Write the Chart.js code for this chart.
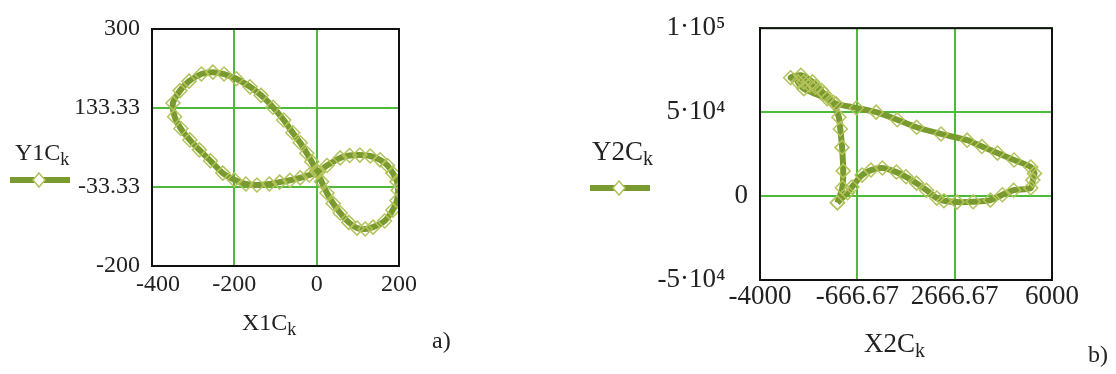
<!DOCTYPE html>
<html>
<head>
<meta charset="utf-8">
<script src="https://cdn.jsdelivr.net/npm/chart.js@4.4.0/dist/chart.umd.min.js"></script>
<style>
    body { margin: 0; background: #fff; }
    #wrap { position: relative; width: 1116px; height: 374px; overflow: hidden; font-family: 'Liberation Serif', 'Times New Roman', serif; color: #222; }
    canvas { position: absolute; top: 0; }
    .lbl { position: absolute; font-size: 24px; line-height: 24px; white-space: nowrap; }
    .lbl sub { font-size: 18px; vertical-align: -5px; line-height: 0; }
    .big { font-size: 27px; line-height: 27px; }
    .big sub { font-size: 20px; }
</style>
</head>
<body>
<div id="wrap">
    <canvas id="chartA" width="460" height="374" style="left:0"></canvas>
    <canvas id="chartB" width="556" height="374" style="left:560px"></canvas>
    <div class="lbl" style="left:15px; top:140px">Y1C<sub>k</sub></div>
    <div class="lbl" style="left:242px; top:310px">X1C<sub>k</sub></div>
    <div class="lbl" style="left:432px; top:328px">a)</div>
    <div class="lbl big" style="left:592px; top:138px">Y2C<sub>k</sub></div>
    <div class="lbl big" style="left:864px; top:330px">X2C<sub>k</sub></div>
    <div class="lbl" style="left:1088px; top:342px">b)</div>
</div>
<script>
// chart a) - figure-eight loop
const x1C = [0, -12, -24, -40, -58, -80, -106, -135, -162, -195, -225, -252, -280, -310, -332, -349, -345, -330, -308, -285, -258, -228, -200, -172, -145, -115, -90, -65, -40, -18, 3, 25, 57, 80, 105, 130, 154, 172, 185, 195, 198, 195, 185, 165, 137, 118, 98, 78, 57, 40, 25, 12, 0];
const y1C = [0, 20, 38, 60, 81, 108, 135, 160, 178, 195, 205, 209, 205, 190, 170, 144, 115, 90, 66, 45, 22, -4, -18, -27, -29, -27, -23, -19, -14, -8, -2, 12, 28, 33, 34, 32, 24, 12, -4, -22, -40, -62, -82, -105, -118, -122, -120, -108, -88, -68, -46, -22, 0];
const x1Ticks = [-400, -200, 0, 200];
const x1Labels = ['\u2002-400', '-200', '0', '200'];
const y1Ticks = [-200, -33.33, 133.33, 300];
const y1Labels = ['-200', '-33.33', '133.33', '300'];

// chart b)
const x2C = [-1350, -1180, -1150, -1190, -1250, -1300, -1500, -1800, -2100, -2500, -2950, -2600, -2200, -1900, -2300, -2700, -2500, -1700, -1400, -700, -21, 700, 1363, 2200, 3093, 3600, 4131, 4700, 5273, 5400, 5343, 5273, 4685, 4300, 3889, 3300, 2747, 2300, 2055, 1700, 1363, 1000, 671, 190, -200, -505, -851, -1000, -1350];
const y2C = [-4000, 5000, 15000, 29000, 40000, 47000, 56000, 61000, 65000, 68000, 70500, 72000, 68000, 63000, 66000, 68000, 64000, 58000, 55000, 52500, 50000, 45500, 41000, 37000, 33300, 29500, 25600, 21500, 17300, 13500, 9500, 4800, 3500, 800, -2400, -3400, -3600, -2800, -1200, 3500, 7700, 11500, 14300, 16700, 15500, 12500, 5400, 2000, -4000];
const x2Ticks = [-4000, -666.67, 2666.67, 6000];
const x2Labels = ['-4000', '-666.67', '2666.67', '6000'];
const y2Ticks = [-50000, 0, 50000, 100000];
const y2Labels = ['-5\u00b710\u2074\u2002\u2004', '0', '5\u00b710\u2074\u2002\u2004', '1\u00b710\u2075\u2002\u2004'];

const lineColor = '#789a2e';
const markColor = '#b3c25a';
const gridColor = '#4dba3b';

const framePlugin = {
    id: 'frame',
    afterDatasetsDraw(chart, args, opts) {
        const { ctx, chartArea: a } = chart;
        ctx.save();
        ctx.strokeStyle = '#111';
        ctx.lineWidth = 2;
        ctx.strokeRect(a.left, a.top, a.right - a.left, a.bottom - a.top);
        // legend sample
        const lg = opts.legend;
        ctx.strokeStyle = lineColor;
        ctx.lineWidth = 6;
        ctx.beginPath();
        ctx.moveTo(lg.x0, lg.y);
        ctx.lineTo(lg.x1, lg.y);
        ctx.stroke();
        ctx.strokeStyle = markColor;
        ctx.fillStyle = '#fff';
        ctx.lineWidth = 1.5;
        ctx.beginPath();
        ctx.moveTo(lg.xm, lg.y - 7);
        ctx.lineTo(lg.xm + 6, lg.y);
        ctx.lineTo(lg.xm, lg.y + 7);
        ctx.lineTo(lg.xm - 6, lg.y);
        ctx.closePath();
        ctx.fill();
        ctx.stroke();
        ctx.restore();
    }
};

function makeChart(id, xs, ys, xT, xL, yT, yL, box, legend) {
    const pts = xs.map((x, i) => ({ x: x, y: ys[i] }));
    const font = { family: "'Liberation Serif', serif", size: box.fs };
    return new Chart(document.getElementById(id), {
        type: 'scatter',
        data: {
            datasets: [{
                data: pts,
                showLine: true,
                borderColor: lineColor,
                borderWidth: 6,
                tension: 0.25,
                pointStyle: 'rectRot',
                pointRadius: 7,
                pointBorderWidth: 1.5,
                pointBorderColor: markColor,
                pointBackgroundColor: 'rgba(0,0,0,0)'
            }]
        },
        options: {
            responsive: false,
            animation: false,
            devicePixelRatio: 1,
            layout: { padding: { top: box.top, right: box.right, bottom: 0, left: 0 } },
            plugins: { legend: { display: false }, tooltip: { enabled: false }, frame: { legend: legend } },
            scales: {
                x: {
                    type: 'linear', min: xT[0], max: xT[xT.length - 1],
                    afterBuildTicks: s => { s.ticks = xT.map(v => ({ value: v })); },
                    afterFit: s => { s.height = box.xh; },
                    ticks: { callback: (v, i) => xL[i], font: font, color: '#222', padding: box.xp, maxRotation: 0, autoSkip: false },
                    grid: { color: gridColor, lineWidth: 2, drawTicks: false },
                    border: { color: '#111', width: 2 }
                },
                y: {
                    type: 'linear', min: yT[0], max: yT[yT.length - 1],
                    afterBuildTicks: s => { s.ticks = yT.map(v => ({ value: v })); },
                    afterFit: s => { s.width = box.yw; },
                    ticks: { callback: (v, i) => yL[i], font: font, color: '#222', padding: 12, autoSkip: false },
                    grid: { color: gridColor, lineWidth: 2, drawTicks: false },
                    border: { color: '#111', width: 2 }
                }
            }
        },
        plugins: [framePlugin]
    });
}

makeChart('chartA', x1C, y1C, x1Ticks, x1Labels, y1Ticks, y1Labels,
    { top: 29, right: 61, xh: 108, yw: 152, fs: 24, xp: 4 },
    { x0: 10, x1: 70, xm: 39, y: 180 });
makeChart('chartB', x2C, y2C, x2Ticks, x2Labels, y2Ticks, y2Labels,
    { top: 28, right: 64, xh: 94, yw: 200, fs: 27, xp: 1 },
    { x0: 30, x1: 90, xm: 59, y: 188 });
</script>
</body>
</html>
